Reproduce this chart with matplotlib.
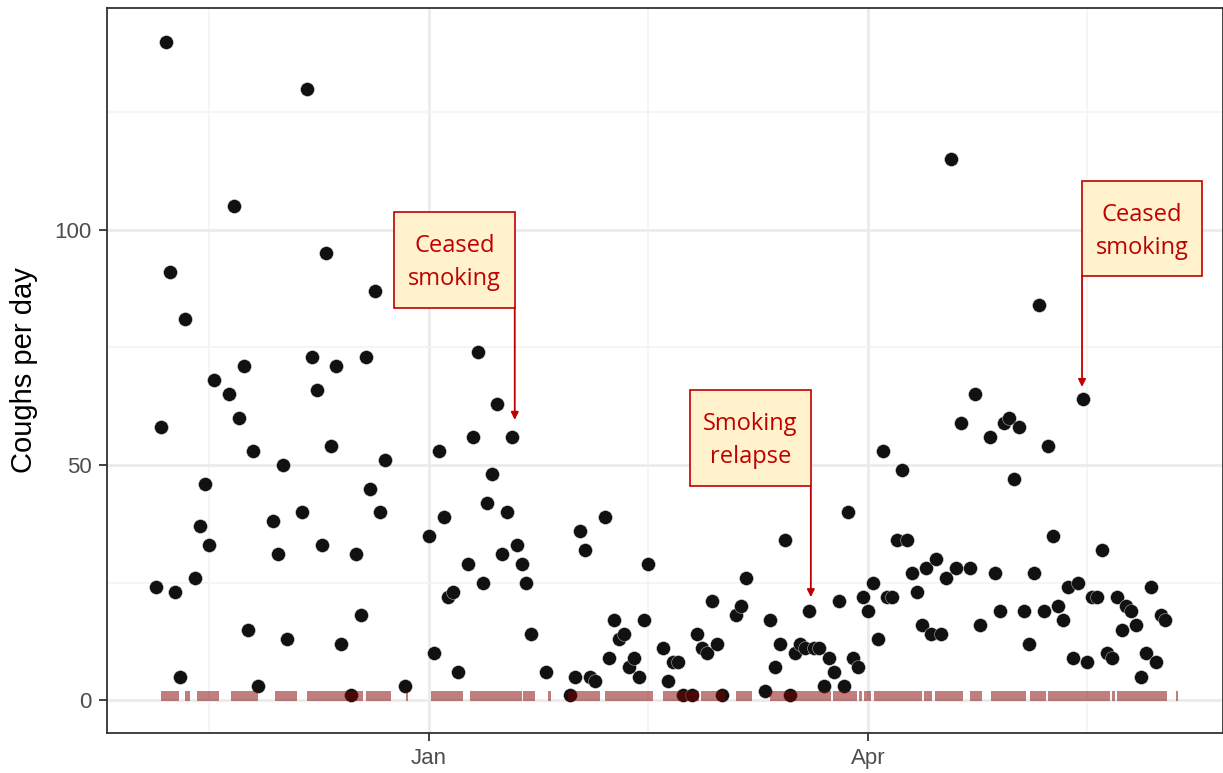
import datetime
import numpy as np
import matplotlib
matplotlib.use("Agg")
import matplotlib.pyplot as plt
import matplotlib.dates as mdates
from matplotlib.patches import Rectangle
from matplotlib.ticker import FixedLocator

# daily cough counts, day offset from 1 Jan
day = [-56, -55, -54, -53, -52, -51, -50, -48, -47, -46, -45, -44, -41, -40, -39,
       -38, -37, -36, -35, -32, -31, -30, -29, -26, -25, -24, -23, -22, -21, -20,
       -19, -18, -16, -15, -14, -13, -12, -11, -10, -9, -5,
       0, 1, 2, 3, 4, 5, 6, 8, 9, 10, 11, 12, 13, 14, 15, 16, 17, 18, 19, 20, 21, 24,
       29, 30, 31, 32, 33, 34, 36, 37, 38, 39, 40, 41, 42, 43, 44, 45, 48, 49, 50,
       51, 52, 54, 55, 56, 57, 58, 59, 60, 63, 64, 65, 69, 70, 71, 72, 73, 74, 75,
       76, 77, 78, 79, 80, 81, 82, 83, 84, 85, 86, 87, 88, 89, 90, 91, 92, 93, 94,
       95, 96, 97, 98, 99, 100, 101, 102, 103, 104, 105, 106, 107, 108, 109, 111,
       112, 113, 115, 116, 117, 118, 119, 120, 121, 122, 123, 124, 125, 126, 127,
       128, 129, 130, 131, 132, 133, 134, 135, 136, 137, 138, 139, 140, 141, 142,
       143, 144, 145, 146, 147, 148, 149, 150, 151]
coughs = [24, 58, 140, 91, 23, 5, 81, 26, 37, 46, 33, 68, 65, 105, 60,
          71, 15, 53, 3, 38, 31, 50, 13, 40, 130, 73, 66, 33, 95, 54,
          71, 12, 1, 31, 18, 73, 45, 87, 40, 51, 3,
          35, 10, 53, 39, 22, 23, 6, 29, 56, 74, 25, 42, 48, 63, 31, 40, 56, 33, 29, 25, 14, 6,
          1, 5, 36, 32, 5, 4, 39, 9, 17, 13, 14, 7, 9, 5, 17, 29, 11, 4, 8,
          8, 1, 1, 14, 11, 10, 21, 12, 1, 18, 20, 26, 2, 17, 7, 12, 34, 1, 10,
          12, 11, 19, 11, 11, 3, 9, 6, 21, 3, 40, 9, 7, 22, 19, 25, 13, 53, 22,
          22, 34, 49, 34, 27, 23, 16, 28, 14, 30, 14, 26, 115, 28, 59, 28,
          65, 16, 56, 27, 19, 59, 60, 47, 58, 19, 12, 27, 84, 19, 54,
          35, 20, 17, 24, 9, 25, 64, 8, 22, 22, 32, 10, 9, 22, 15,
          20, 19, 16, 5, 10, 24, 8, 18, 17]

# recording periods (rug), day offsets
rug_start = [-55.0, -50.0, -47.5, -40.5, -31.5, -25.0, -13.0, -4.7, 0.5, 8.5, 19.3, 24.4,
             28.5, 36.0, 48.0, 55.8, 63.0, 70.0, 82.8, 88.2, 89.2, 91.2, 101.5, 103.7,
             111.0, 115.2, 123.2, 127.0, 140.0, 141.0, 153.1]
rug_end = [-51.3, -49.0, -43.0, -35.0, -27.0, -13.5, -7.8, -4.3, 7.0, 19.1, 21.7, 25.0,
           35.0, 46.0, 55.4, 60.7, 66.2, 82.4, 87.7, 88.8, 90.6, 101.1, 103.1, 109.5,
           113.4, 122.4, 126.5, 139.6, 140.6, 151.3, 153.5]

# annotations: label, box (x0, x1, y0, y1) in days / counts, arrow x and tip
notes = ["Ceased\nsmoking", "Smoking\nrelapse", "Ceased\nsmoking"]
box_x0 = [-7.2, 53.5, 133.9]
box_x1 = [17.6, 78.3, 158.5]
box_y0 = [83.4, 45.5, 90.2]
box_y1 = [103.8, 66.0, 110.4]
arrow_x = [17.6, 78.3, 133.9]
arrow_tip = [59.6, 21.9, 66.6]

minor_days = [-45, 45, 135]

base = datetime.date(2019, 1, 1)
def d2n(offset):
    return mdates.date2num(base) + np.asarray(offset, dtype=float)

red = "#c00000"

fig = plt.figure(figsize=(12.23, 7.73), dpi=100)
ax = fig.add_axes([107 / 1223, 1 - 733 / 773, 1 - 107 / 1223, (733 - 8) / 773])

ax.scatter(d2n(day), coughs, s=100, color="#111111", edgecolors="#e0e0e0",
           linewidths=0.3, zorder=3)

bars = [(d2n(s), e - s) for s, e in zip(rug_start, rug_end)]
ax.broken_barh(bars, (-0.3, 2.3), facecolors="#800000", alpha=0.5, zorder=4)

for txt, x0, x1, y0, y1, xa, tip in zip(notes, box_x0, box_x1, box_y0, box_y1,
                                        arrow_x, arrow_tip):
    ax.add_patch(Rectangle((d2n(x0), y0), x1 - x0, y1 - y0, facecolor="#fff2cc",
                           edgecolor=red, linewidth=1.2, zorder=5))
    ax.text(d2n((x0 + x1) / 2), (y0 + y1) / 2 - 0.6, txt, color=red, ha="center",
            va="center", fontsize=17, family="Open Sans", linespacing=1.5, zorder=6)
    ax.annotate("", xy=(d2n(xa), tip), xytext=(d2n(xa), y0),
                arrowprops=dict(arrowstyle="-|>", color=red, lw=1.3,
                                mutation_scale=11, shrinkA=0, shrinkB=0), zorder=6)

ax.set_xlim(d2n(-66.0), d2n(162.8))
ax.set_ylim(-7.0, 147.2)

ax.xaxis.set_major_locator(mdates.MonthLocator(bymonth=[1, 4]))
ax.xaxis.set_major_formatter(mdates.DateFormatter("%b"))
ax.xaxis.set_minor_locator(FixedLocator(d2n(minor_days)))
ax.set_yticks([0, 50, 100])
ax.set_yticks([25, 75, 125], minor=True)

ax.grid(which="major", color="#ebebeb", linewidth=2.0, zorder=0)
ax.grid(which="minor", color="#f4f4f4", linewidth=1.2, zorder=0)
ax.set_axisbelow(True)

for s in ax.spines.values():
    s.set_color("#333333")
    s.set_linewidth(1.3)

ax.tick_params(which="major", length=6, width=1.3, color="#333333",
               labelcolor="#4d4d4d", labelsize=16, pad=5)
ax.tick_params(which="minor", length=0)
for lab in ax.get_xticklabels() + ax.get_yticklabels():
    lab.set_family("Liberation Sans")

ax.set_ylabel("Coughs per day", fontsize=21, family="Liberation Sans", labelpad=12)

fig.savefig("out.png", dpi=100)
